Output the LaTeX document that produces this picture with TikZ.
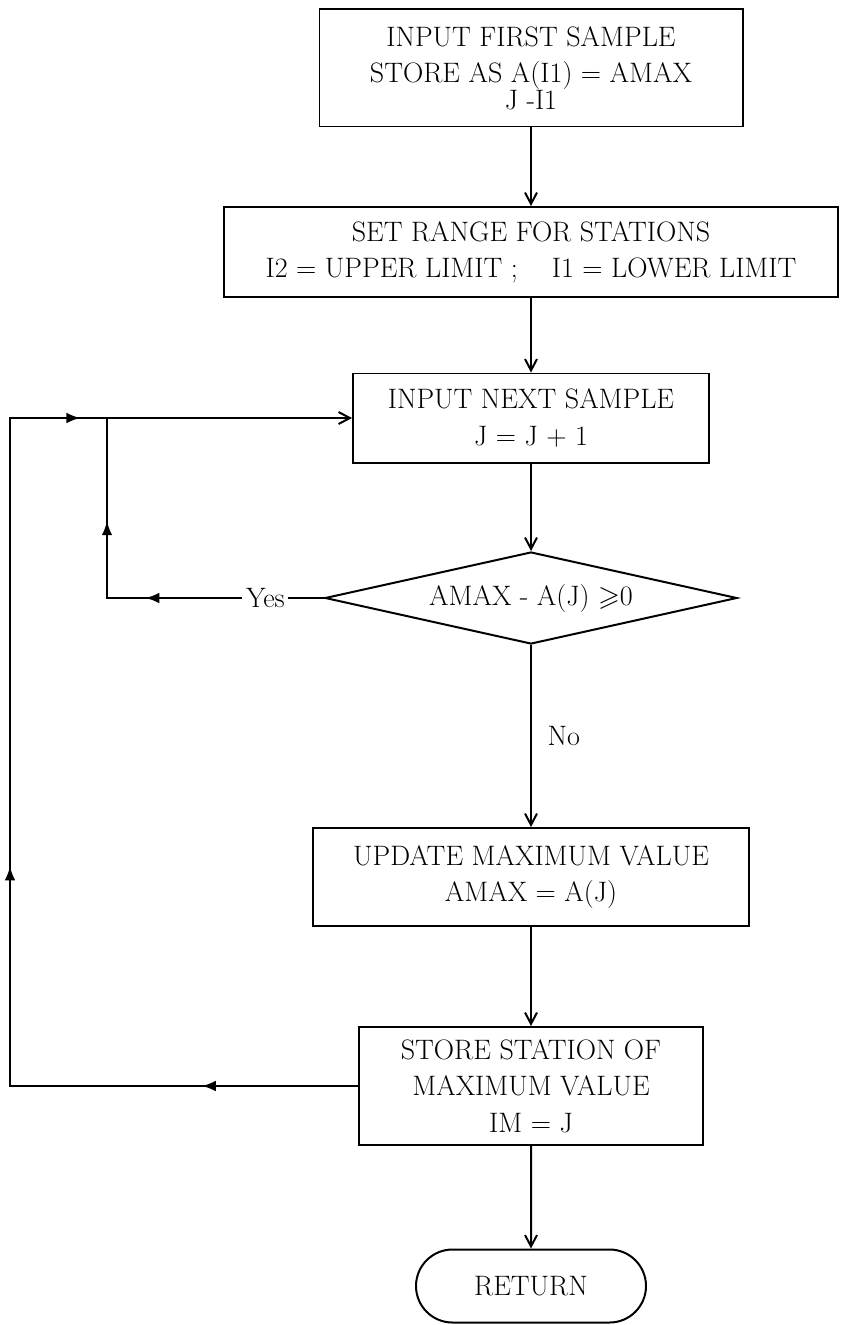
\documentclass[tikz,border=0pt]{standalone}
\usepackage{amsmath,amssymb}
\usepackage{tikz}
\usetikzlibrary{arrows.meta,shapes.geometric,shapes.misc,decorations.markings}

\tikzset{midhead/.tip={Latex[length=4.2mm, width=3.2mm]}}

\begin{document}
\begin{tikzpicture}[
  x=0.03cm, y=-0.03cm,
  font=\fontsize{24}{31}\selectfont,
  box/.style={draw, rectangle, align=center, inner sep=0pt, line width=1.7pt},
  decision/.style={draw, diamond, aspect=4.5, inner sep=0pt, line width=1.7pt},
  terminal/.style={draw, rounded rectangle, inner sep=0pt, line width=1.7pt},
  >={Straight Barb[length=3.4mm, width=3.6mm]},
  arrline/.style={->, line width=1.7pt},
  loopline/.style={line width=1.7pt, line join=miter},
]
\useasboundingbox (0,0) rectangle (840,1325);

\node[box, minimum width=12.69cm, minimum height=3.51cm] (inFirst) at (531,68)
  {INPUT FIRST SAMPLE\\STORE AS A(I1) = AMAX\\[-8pt]J -I1};
\node[box, minimum width=18.4cm, minimum height=2.7cm] (setRange) at (531,252)
  {SET RANGE FOR STATIONS\\I2 = UPPER LIMIT ;\ \ \ \ I1 = LOWER LIMIT};
\node[box, minimum width=10.68cm, minimum height=2.67cm] (inNext) at (531,418)
  {INPUT NEXT SAMPLE\\J = J + 1};
\node[decision, minimum width=12.36cm, minimum height=2.76cm] (test) at (531,598)
  {AMAX - A(J) $\geqslant$0};
\node[box, minimum width=13.08cm, minimum height=2.94cm] (update) at (531,877)
  {UPDATE MAXIMUM VALUE\\AMAX = A(J)};
\node[box, minimum width=10.32cm, minimum height=3.54cm] (storeSt) at (531,1086)
  {STORE STATION OF\\MAXIMUM VALUE\\IM = J};
\node[terminal, minimum width=6.9cm, minimum height=2.19cm] (ret) at (531,1286)
  {RETURN};

\coordinate (yesCorner) at (107,598);
\coordinate (loopJoin) at (107,418);
\coordinate (backBot) at (10,1086);
\coordinate (backTop) at (10,418);

% main column
\draw[arrline] (inFirst) -- (setRange);
\draw[arrline] (setRange) -- (inNext);
\draw[arrline] (inNext) -- (test);
\draw[arrline] (test) -- node[pos=0.5, anchor=west, xshift=10pt] {No} (update);
\draw[arrline] (update) -- (storeSt);
\draw[arrline] (storeSt) -- (ret);

% yes branch
\draw[loopline, postaction=decorate, decoration={markings,
    mark=at position 0.45 with {\arrow{midhead}},
    mark=at position 0.74 with {\arrow{midhead}}}]
  (test.west) -- node[pos=0.27, fill=white, inner sep=3pt] {Yes} (yesCorner) -- (loopJoin);

% back to next sample
\draw[loopline, ->, postaction=decorate, decoration={markings,
    mark=at position 0.115 with {\arrow{midhead}},
    mark=at position 0.418 with {\arrow{midhead}},
    mark=at position 0.80 with {\arrow{midhead}}}]
  (storeSt.west) -- (backBot) -- (backTop) -- (inNext.west);
\end{tikzpicture}
\end{document}
